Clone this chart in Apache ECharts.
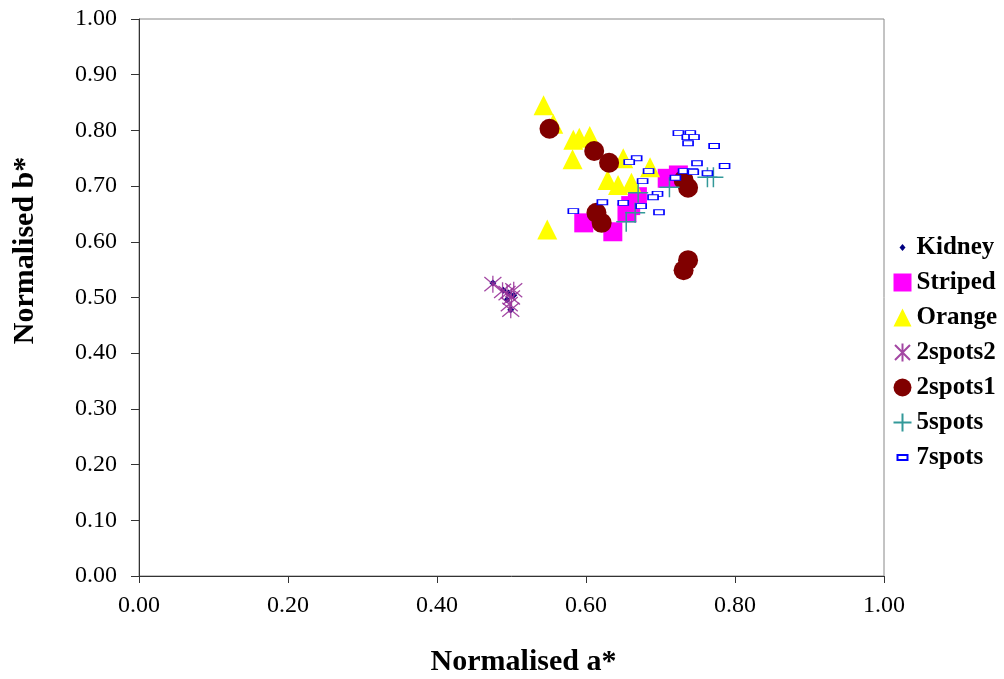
<!DOCTYPE html>
<html>
<head>
<meta charset="utf-8">
<script src="https://cdn.jsdelivr.net/npm/echarts@6/dist/echarts.min.js"></script>
<style>
  html, body { margin: 0; padding: 0; background: #fff; }
  #chart { width: 1004px; height: 679px; }
</style>
</head>
<body>
<div id="chart"></div>
<script>
// values, [a*, b*]
const kidney = [[0.475, 0.526], [0.489, 0.513], [0.496, 0.508], [0.494, 0.496], [0.499, 0.478], [0.503, 0.504]];
const striped = [[0.597, 0.634], [0.636, 0.618], [0.655, 0.652], [0.669, 0.681], [0.709, 0.714], [0.724, 0.720], [0.660, 0.665]];
const orange = [[0.543, 0.845], [0.556, 0.812], [0.583, 0.783], [0.591, 0.787], [0.605, 0.790], [0.582, 0.748],
  [0.650, 0.750], [0.686, 0.734], [0.629, 0.711], [0.643, 0.702], [0.661, 0.706], [0.548, 0.622]];
const spots2b = [[0.475, 0.524], [0.488, 0.512], [0.494, 0.508], [0.500, 0.500], [0.503, 0.513], [0.497, 0.488], [0.499, 0.478]];
const spots2a = [[0.551, 0.803], [0.611, 0.763], [0.631, 0.742], [0.614, 0.652], [0.621, 0.634],
  [0.731, 0.711], [0.737, 0.697], [0.731, 0.549], [0.737, 0.567]];
const spots5 = [[0.654, 0.636], [0.666, 0.652], [0.670, 0.688], [0.712, 0.698], [0.763, 0.716], [0.771, 0.716]];
const spots7 = [[0.724, 0.795], [0.740, 0.795], [0.736, 0.788], [0.745, 0.788], [0.737, 0.777], [0.772, 0.772],
  [0.668, 0.750], [0.658, 0.743], [0.749, 0.741], [0.786, 0.736], [0.684, 0.727], [0.731, 0.727],
  [0.743, 0.727], [0.744, 0.725], [0.763, 0.723], [0.720, 0.715], [0.676, 0.709], [0.696, 0.686],
  [0.690, 0.680], [0.622, 0.671], [0.650, 0.670], [0.674, 0.664], [0.698, 0.653], [0.583, 0.655]];
const seriesNames = ['Kidney', 'Striped', 'Orange', '2spots2', '2spots1', '5spots', '7spots'];

const serif = '"Liberation Serif", "Times New Roman", serif';
const asterisk = 'path://M0,0L10,10M10,0L0,10M5,-1L5,11';
const plus = 'path://M5,0L5,10M0,5L10,5';
// legend icons padded inside an 18x18 box so the small markers stay small
const kidneyIcon = 'path://M0,0M18,18M9,5.5L12,9L9,12.5L6,9Z';
const spots7Icon = 'path://M0,0M18,18M4,6.5L14,6.5L14,11.5L4,11.5Z';

const chart = echarts.init(document.getElementById('chart'));

chart.setOption({
  animation: false,
  backgroundColor: '#fff',
  grid: {
    left: 139, right: 120, top: 19, bottom: 103,
    containLabel: false, outerBoundsMode: 'none',
    show: true, borderColor: '#888', borderWidth: 1
  },
  xAxis: {
    type: 'value', min: 0, max: 1, interval: 0.2,
    name: 'Normalised a*', nameLocation: 'middle', nameGap: 71,
    // titles sit a little off-centre in the original
    nameTextStyle: { fontFamily: serif, fontSize: 30, fontWeight: 'bold', color: '#000', padding: [0, 0, 0, 24] },
    axisLine: { lineStyle: { color: '#333' } },
    axisTick: { show: true, inside: false, length: 7, lineStyle: { color: '#333' } },
    axisLabel: { fontFamily: serif, fontSize: 24, color: '#000', margin: 18,
      formatter: v => v.toFixed(2) },
    splitLine: { show: false }
  },
  yAxis: {
    type: 'value', min: 0, max: 1, interval: 0.1,
    name: 'Normalised b*', nameLocation: 'middle', nameGap: 99,
    nameTextStyle: { fontFamily: serif, fontSize: 30, fontWeight: 'bold', color: '#000', padding: [0, 0, 0, 94] },
    axisLine: { show: true, lineStyle: { color: '#333' } },
    axisTick: { show: true, inside: false, length: 8, lineStyle: { color: '#333' } },
    axisLabel: { fontFamily: serif, fontSize: 24, color: '#000', margin: 22,
      formatter: v => v.toFixed(2) },
    splitLine: { show: false }
  },
  legend: {
    orient: 'vertical', left: 891, top: 235, itemGap: 10, padding: 0,
    itemWidth: 18, itemHeight: 18,
    textStyle: { fontFamily: serif, fontSize: 25, lineHeight: 25, fontWeight: 'bold', color: '#000' },
    data: seriesNames.map(n => {
      if (n === 'Kidney') return { name: n, icon: kidneyIcon };
      if (n === '7spots') return { name: n, icon: spots7Icon };
      return n;
    })
  },
  series: [
    { name: 'Kidney', type: 'scatter', data: kidney, symbol: 'diamond', symbolSize: 7,
      itemStyle: { color: '#000080', opacity: 1 } },
    { name: 'Striped', type: 'scatter', data: striped, symbol: 'rect', symbolSize: 19,
      itemStyle: { color: '#ff00ff', opacity: 1 } },
    { name: 'Orange', type: 'scatter', data: orange, symbol: 'triangle', symbolSize: 20,
      itemStyle: { color: '#ffff00', opacity: 1 } },
    { name: '2spots2', type: 'scatter', data: spots2b, symbol: asterisk, symbolSize: 17,
      itemStyle: { color: 'none', borderColor: '#993399', borderWidth: 1.3, opacity: 0.9 } },
    { name: '2spots1', type: 'scatter', data: spots2a, symbol: 'circle', symbolSize: 20,
      itemStyle: { color: '#800000', opacity: 1 } },
    { name: '5spots', type: 'scatter', data: spots5, symbol: plus, symbolSize: 20,
      itemStyle: { color: 'none', borderColor: '#339999', borderWidth: 1.5, opacity: 1 } },
    { name: '7spots', type: 'scatter', data: spots7, symbol: 'rect', symbolSize: [10, 5],
      itemStyle: { color: '#fff', borderColor: '#0000ff', borderWidth: 1.2, opacity: 1 } }
  ]
});
</script>
</body>
</html>
